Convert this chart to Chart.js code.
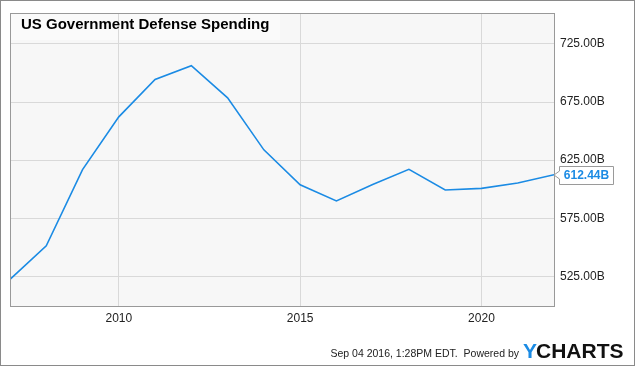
<!DOCTYPE html>
<html>
<head>
<meta charset="utf-8">
<script src="https://cdn.jsdelivr.net/npm/chart.js@4"></script>
<style>
  html, body { margin: 0; padding: 0; background: #fff; }
  canvas { display: block; }
</style>
</head>
<body>
<canvas id="chart" width="635" height="366"></canvas>
<script>
// data
const years = [2007, 2008, 2009, 2010, 2011, 2012, 2013, 2014, 2015, 2016, 2017, 2018, 2019, 2020, 2021, 2022];
const spending = [522.4, 551.3, 616.9, 662.3, 694.4, 706.3, 678.7, 633.9, 603.8, 589.9, 604.0, 617.1, 599.3, 600.7, 605.3, 612.44];
const yearTicks = [2010, 2015, 2020];
const valueTicks = [525, 575, 625, 675, 725];
const title = 'US Government Defense Spending';
const footer = 'Sep 04 2016, 1:28PM EDT.  Powered by';
const lastLabel = '612.44B';

const blue = '#1b8be4';
const font = '"Liberation Sans", Arial, sans-serif';

const decor = {
    id: 'decor',
    beforeDraw(chart) {
        const ctx = chart.ctx;
        const a = chart.chartArea;
        ctx.save();
        ctx.fillStyle = '#fff';
        ctx.fillRect(0, 0, chart.width, chart.height);
        ctx.fillStyle = '#f7f7f7';
        ctx.fillRect(a.left, a.top, a.right - a.left, a.bottom - a.top);
        // title box
        ctx.fillStyle = '#fafafa';
        ctx.fillRect(a.left, a.top, 270, 27);
        ctx.restore();
    },
    afterDraw(chart) {
        const ctx = chart.ctx;
        const a = chart.chartArea;
        const y = chart.scales.y;
        ctx.save();
        // outer frame
        ctx.strokeStyle = '#8a8a8a';
        ctx.lineWidth = 1;
        ctx.strokeRect(0.5, 0.5, chart.width - 1, chart.height - 1);
        // plot frame
        ctx.strokeStyle = '#999';
        ctx.strokeRect(Math.round(a.left) + 0.5, Math.round(a.top) + 0.5,
            Math.round(a.right - a.left), Math.round(a.bottom - a.top));

        // title
        ctx.fillStyle = '#000';
        ctx.font = 'bold 15px ' + font;
        ctx.textBaseline = 'alphabetic';
        ctx.textAlign = 'left';
        ctx.fillText(title, 21, 29);

        // last value flag
        const ly = Math.round(y.getPixelForValue(spending[spending.length - 1]));
        const bx = 559.5, bw = 54, bh = 18;
        const by = ly - 9 + 0.5;
        ctx.beginPath();
        ctx.moveTo(bx, by);
        ctx.lineTo(bx + bw, by);
        ctx.lineTo(bx + bw, by + bh);
        ctx.lineTo(bx, by + bh);
        ctx.lineTo(bx, ly + 4);
        ctx.lineTo(a.right, ly);
        ctx.lineTo(bx, ly - 4);
        ctx.closePath();
        ctx.fillStyle = '#fff';
        ctx.fill();
        ctx.strokeStyle = '#9a9a9a';
        ctx.stroke();
        ctx.fillStyle = blue;
        ctx.font = 'bold 12px ' + font;
        ctx.textAlign = 'center';
        ctx.textBaseline = 'middle';
        ctx.fillText(lastLabel, bx + bw / 2, ly + 1);

        // footer
        ctx.textBaseline = 'alphabetic';
        ctx.textAlign = 'right';
        ctx.fillStyle = '#222';
        ctx.font = '10.5px ' + font;
        ctx.fillText(footer, 519, 357);
        ctx.textAlign = 'left';
        ctx.font = 'bold 21px ' + font;
        ctx.fillStyle = blue;
        ctx.fillText('Y', 523, 358);
        const yw = ctx.measureText('Y').width;
        ctx.fillStyle = '#111';
        ctx.fillText('CHARTS', 523 + yw - 1, 358);
        ctx.restore();
    }
};

new Chart(document.getElementById('chart'), {
    type: 'line',
    data: {
        datasets: [{
            data: years.map((yr, i) => ({ x: yr, y: spending[i] })),
            borderColor: blue,
            borderWidth: 1.6,
            pointRadius: 0,
            tension: 0,
            fill: false
        }]
    },
    options: {
        responsive: false,
        animation: false,
        devicePixelRatio: 1,
        layout: { padding: { left: 10, top: 10, right: 0, bottom: 0 } },
        plugins: {
            legend: { display: false },
            tooltip: { enabled: false }
        },
        scales: {
            x: {
                type: 'linear',
                min: 2007,
                max: 2022,
                afterBuildTicks: scale => { scale.ticks = yearTicks.map(v => ({ value: v })); },
                afterFit: scale => { scale.height = 60; },
                grid: { color: '#d9d9d9', drawTicks: false },
                border: { display: false },
                ticks: {
                    padding: 5,
                    maxRotation: 0,
                    color: '#222',
                    font: { family: font, size: 12 },
                    callback: v => String(v)
                }
            },
            y: {
                position: 'right',
                min: 499.5,
                max: 751.5,
                afterBuildTicks: scale => { scale.ticks = valueTicks.map(v => ({ value: v })); },
                afterFit: scale => { scale.width = 81; },
                grid: { color: '#d9d9d9', drawTicks: false },
                border: { display: false },
                ticks: {
                    padding: 6,
                    color: '#222',
                    font: { family: font, size: 12 },
                    callback: v => v.toFixed(2) + 'B'
                }
            }
        }
    },
    plugins: [decor]
});
</script>
</body>
</html>
